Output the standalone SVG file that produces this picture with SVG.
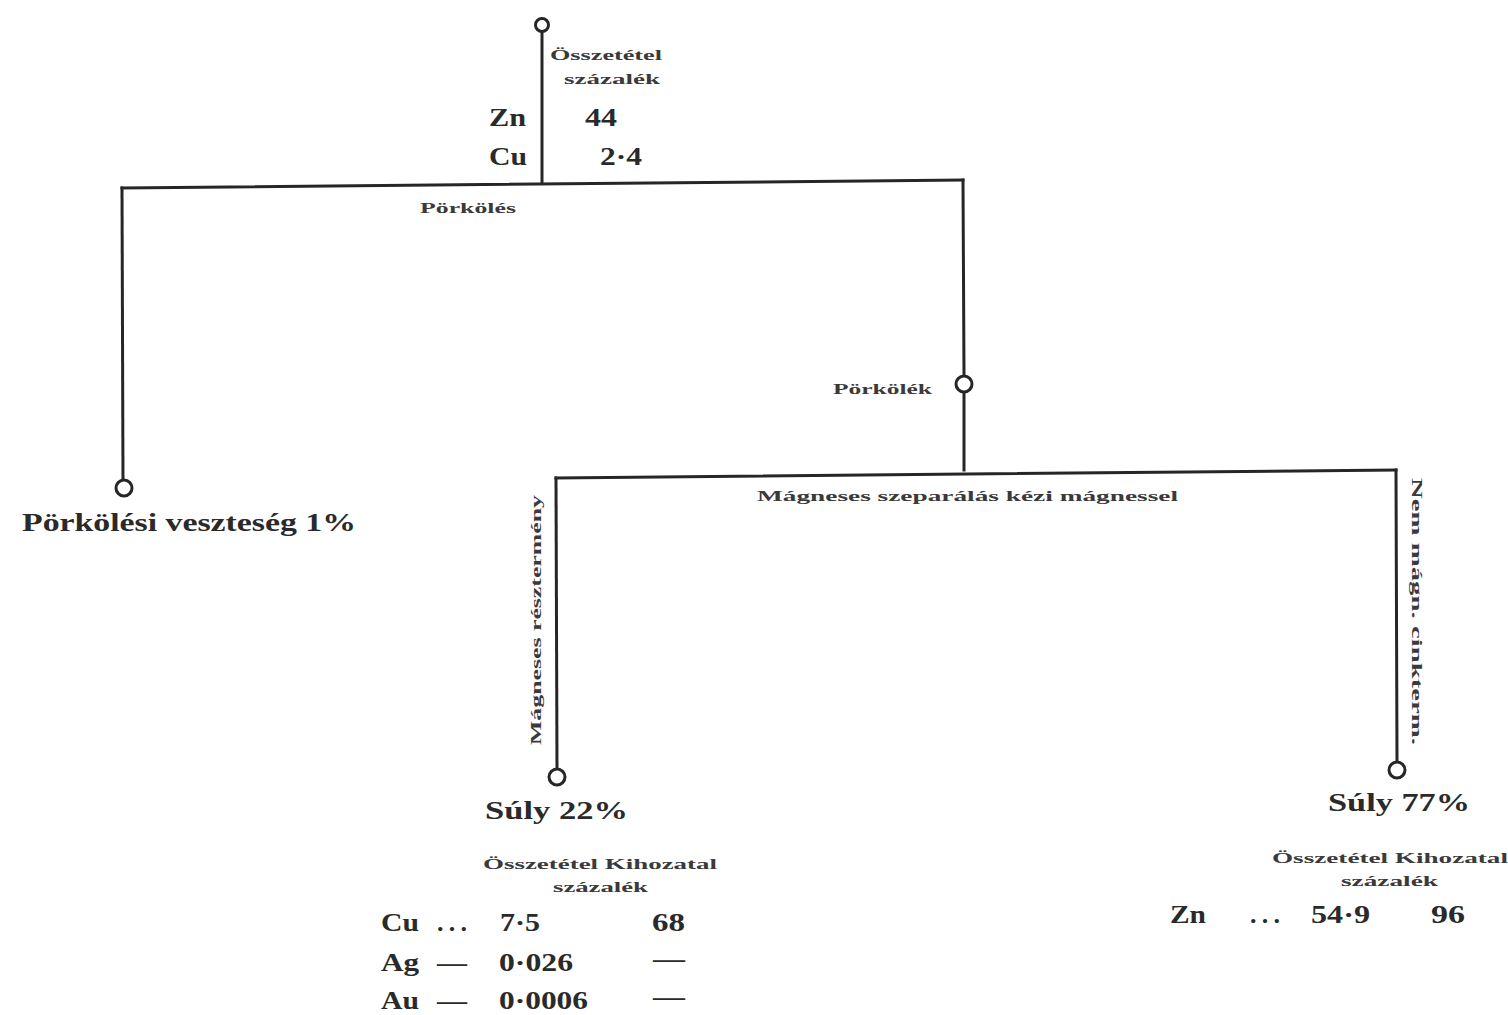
<svg xmlns="http://www.w3.org/2000/svg" width="1508" height="1015" viewBox="0 0 1508 1015">
<style>
.ln{stroke:#262626;stroke-width:3;fill:none;stroke-linecap:square}
.nd{stroke:#262626;stroke-width:3;fill:#fff}
.big{font-family:"Liberation Serif",serif;font-weight:bold;font-size:26px;fill:#2a2a2a}
.sm{font-family:"Liberation Serif",serif;font-weight:bold;font-size:15px;fill:#3a3a3a}
</style>
<rect width="1508" height="1015" fill="#fff"/>
<g id="connectors">
<line class="ln" x1="542" y1="33" x2="542" y2="183"/>
<line class="ln" x1="122" y1="188" x2="963" y2="180"/>
<line class="ln" x1="122" y1="188" x2="123" y2="479"/>
<line class="ln" x1="963" y1="180" x2="964" y2="375"/>
<line class="ln" x1="964" y1="393" x2="964" y2="470"/>
<line class="ln" x1="556" y1="478" x2="1396" y2="470"/>
<line class="ln" x1="556" y1="478" x2="557" y2="768"/>
<line class="ln" x1="1396" y1="470" x2="1397" y2="761"/>
</g>
<g id="node-top">
<circle class="nd" cx="542" cy="25" r="6.5"/>
<text class="sm" x="606" y="60" text-anchor="middle" textLength="112" lengthAdjust="spacingAndGlyphs">Összetétel</text>
<text class="sm" x="612" y="84" text-anchor="middle" textLength="96" lengthAdjust="spacingAndGlyphs">százalék</text>
<text class="big" x="489" y="126" textLength="37" lengthAdjust="spacingAndGlyphs">Zn</text>
<text class="big" x="585" y="126" textLength="32" lengthAdjust="spacingAndGlyphs">44</text>
<text class="big" x="489" y="165" textLength="38" lengthAdjust="spacingAndGlyphs">Cu</text>
<text class="big" x="600" y="165" textLength="42" lengthAdjust="spacingAndGlyphs">2·4</text>
<text class="sm" x="420" y="213" textLength="96" lengthAdjust="spacingAndGlyphs">Pörkölés</text>
</g>
<g id="node-loss">
<circle class="nd" cx="124" cy="488" r="8"/>
<text class="big" x="22" y="531" textLength="334" lengthAdjust="spacingAndGlyphs">Pörkölési  veszteség  1%</text>
</g>
<g id="node-roast">
<circle class="nd" cx="964" cy="384" r="8"/>
<text class="sm" x="833" y="394" textLength="99" lengthAdjust="spacingAndGlyphs">Pörkölék</text>
<text class="sm" x="757" y="501" textLength="421" lengthAdjust="spacingAndGlyphs">Mágneses szeparálás kézi mágnessel</text>
</g>
<g id="node-magnetic">
<text class="sm" transform="translate(541,745) rotate(-90)" textLength="250" lengthAdjust="spacingAndGlyphs">Mágneses résztermény</text>
<circle class="nd" cx="557" cy="777" r="8"/>
<text class="big" x="485" y="819" textLength="143" lengthAdjust="spacingAndGlyphs">Súly  22%</text>
<text class="sm" x="483" y="869" textLength="234" lengthAdjust="spacingAndGlyphs">Összetétel  Kihozatal</text>
<text class="sm" x="553" y="892" textLength="95" lengthAdjust="spacingAndGlyphs">százalék</text>
<text class="big" x="381" y="931" textLength="38" lengthAdjust="spacingAndGlyphs">Cu</text>
<text class="big" x="437" y="931" textLength="30" lengthAdjust="spacing">...</text>
<text class="big" x="500" y="931" textLength="40" lengthAdjust="spacingAndGlyphs">7·5</text>
<text class="big" x="652" y="931" textLength="33" lengthAdjust="spacingAndGlyphs">68</text>
<text class="big" x="381" y="971" textLength="38" lengthAdjust="spacingAndGlyphs">Ag</text>
<text class="big" x="437" y="971" textLength="30" lengthAdjust="spacingAndGlyphs">—</text>
<text class="big" x="499" y="971" textLength="74" lengthAdjust="spacingAndGlyphs">0·026</text>
<text class="big" x="653" y="967" textLength="32" lengthAdjust="spacingAndGlyphs">—</text>
<text class="big" x="381" y="1009" textLength="38" lengthAdjust="spacingAndGlyphs">Au</text>
<text class="big" x="437" y="1009" textLength="30" lengthAdjust="spacingAndGlyphs">—</text>
<text class="big" x="499" y="1009" textLength="89" lengthAdjust="spacingAndGlyphs">0·0006</text>
<text class="big" x="653" y="1005" textLength="32" lengthAdjust="spacingAndGlyphs">—</text>
</g>
<g id="node-nonmagnetic">
<text class="sm" transform="translate(1412,478) rotate(90)" textLength="267" lengthAdjust="spacingAndGlyphs">Nem mágn. cinkterm.</text>
<circle class="nd" cx="1397" cy="770" r="8"/>
<text class="big" x="1328" y="811" textLength="142" lengthAdjust="spacingAndGlyphs">Súly  77%</text>
<text class="sm" x="1272" y="863" textLength="236" lengthAdjust="spacingAndGlyphs">Összetétel  Kihozatal</text>
<text class="sm" x="1341" y="886" textLength="97" lengthAdjust="spacingAndGlyphs">százalék</text>
<text class="big" x="1170" y="923" textLength="36" lengthAdjust="spacingAndGlyphs">Zn</text>
<text class="big" x="1250" y="923" textLength="30" lengthAdjust="spacing">...</text>
<text class="big" x="1311" y="923" textLength="59" lengthAdjust="spacingAndGlyphs">54·9</text>
<text class="big" x="1431" y="923" textLength="34" lengthAdjust="spacingAndGlyphs">96</text>
</g>
</svg>
